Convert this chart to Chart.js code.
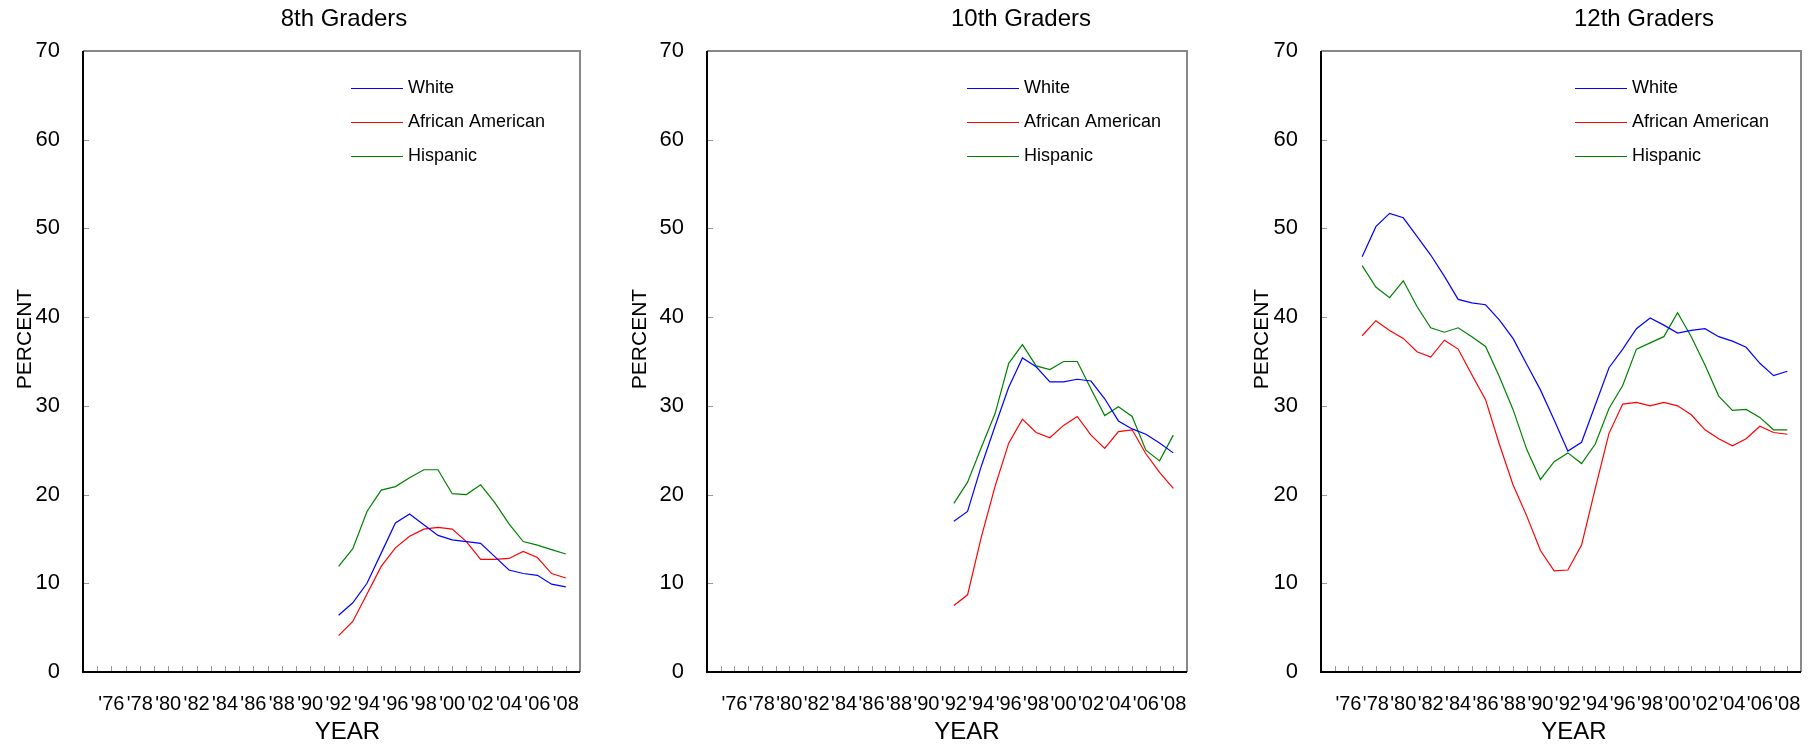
<!DOCTYPE html>
<html>
<head>
<meta charset="utf-8">
<script src="https://cdn.jsdelivr.net/npm/chart.js@4.4.1/dist/chart.umd.min.js"></script>
<style>
  html, body { margin: 0; padding: 0; background: #fff; }
  body { width: 1813px; height: 747px; position: relative; overflow: hidden; font-family: "Liberation Sans", Arial, sans-serif; }
  canvas { position: absolute; top: 0; }
  .title { position: absolute; top: 4px; font-size: 24px; line-height: 28px; transform: translateX(-50%); white-space: nowrap; color: #000; }
</style>
</head>
<body>
<canvas id="c8" width="600" height="747" style="left:0px"></canvas>
<canvas id="c10" width="600" height="747" style="left:624px"></canvas>
<canvas id="c12" width="575" height="747" style="left:1238px"></canvas>
<div class="title" style="left:344px">8th Graders</div>
<div class="title" style="left:1021px">10th Graders</div>
<div class="title" style="left:1644px">12th Graders</div>
<script>
// series names and axis titles
const seriesNames = ['White', 'African American', 'Hispanic']
const xTitle = 'YEAR'
const yTitle = 'PERCENT'

// x axis ticks: every year gets a tick mark, even years get a label
const tickYears = [1975, 1976, 1977, 1978, 1979, 1980, 1981, 1982, 1983, 1984, 1985, 1986,
  1987, 1988, 1989, 1990, 1991, 1992, 1993, 1994, 1995, 1996, 1997, 1998, 1999, 2000,
  2001, 2002, 2003, 2004, 2005, 2006, 2007, 2008]
const tickLabels = ['', "'76", '', "'78", '', "'80", '', "'82", '', "'84", '', "'86",
  '', "'88", '', "'90", '', "'92", '', "'94", '', "'96", '', "'98", '', "'00",
  '', "'02", '', "'04", '', "'06", '', "'08"]
const yTicks = [0, 10, 20, 30, 40, 50, 60, 70]

// 8th graders
const years8 = [1992, 1993, 1994, 1995, 1996, 1997, 1998, 1999, 2000, 2001, 2002, 2003, 2004, 2005, 2006, 2007, 2008]
const white8 = [6.4, 7.8, 10.0, 13.4, 16.8, 17.8, 16.6, 15.4, 14.9, 14.7, 14.5, 13.0, 11.5, 11.1, 10.9, 9.9, 9.6]
const black8 = [4.1, 5.7, 8.8, 11.9, 14.0, 15.3, 16.1, 16.3, 16.1, 14.7, 12.7, 12.7, 12.8, 13.6, 12.9, 11.1, 10.6]
const hisp8 = [11.9, 13.9, 18.1, 20.5, 20.9, 21.9, 22.8, 22.8, 20.1, 20.0, 21.1, 19.1, 16.7, 14.7, 14.3, 13.8, 13.3]

// 10th graders
const years10 = [1992, 1993, 1994, 1995, 1996, 1997, 1998, 1999, 2000, 2001, 2002, 2003, 2004, 2005, 2006, 2007, 2008]
const white10 = [17.0, 18.1, 23.2, 27.7, 32.1, 35.4, 34.4, 32.7, 32.7, 33.0, 32.8, 30.8, 28.3, 27.4, 26.8, 25.8, 24.7]
const black10 = [7.5, 8.7, 15.2, 20.9, 25.8, 28.5, 27.0, 26.4, 27.8, 28.8, 26.7, 25.2, 27.1, 27.3, 24.6, 22.5, 20.7]
const hisp10 = [19.0, 21.4, 25.3, 29.1, 34.8, 36.9, 34.5, 34.1, 35.0, 35.0, 31.9, 28.9, 29.9, 28.8, 25.0, 23.8, 26.7]

// 12th graders
const years12 = [1977, 1978, 1979, 1980, 1981, 1982, 1983, 1984, 1985, 1986, 1987, 1988, 1989, 1990, 1991, 1992,
  1993, 1994, 1995, 1996, 1997, 1998, 1999, 2000, 2001, 2002, 2003, 2004, 2005, 2006, 2007, 2008]
const white12 = [46.8, 50.2, 51.7, 51.2, 49.1, 47.0, 44.6, 42.0, 41.6, 41.4, 39.7, 37.6, 34.7, 31.8, 28.4, 24.9,
  25.9, 30.1, 34.3, 36.4, 38.7, 39.9, 39.1, 38.2, 38.5, 38.7, 37.8, 37.3, 36.6, 34.8, 33.4, 33.9]
const black12 = [37.9, 39.6, 38.5, 37.6, 36.1, 35.5, 37.4, 36.4, 33.5, 30.7, 25.7, 21.1, 17.6, 13.7, 11.4, 11.5,
  14.3, 20.7, 26.9, 30.2, 30.4, 30.0, 30.4, 30.0, 29.0, 27.3, 26.3, 25.5, 26.3, 27.7, 27.0, 26.8]
const hisp12 = [45.8, 43.4, 42.2, 44.1, 41.2, 38.8, 38.3, 38.8, 37.8, 36.7, 33.3, 29.6, 25.1, 21.7, 23.7, 24.7,
  23.5, 25.7, 29.7, 32.3, 36.4, 37.1, 37.8, 40.5, 37.8, 34.6, 31.1, 29.5, 29.6, 28.7, 27.3, 27.3]

const colors = ['#0000ff', '#ff0000', '#008000']
const FONT = '"Liberation Sans", Arial, sans-serif'

// inward tick marks, box frame, axis titles and the legend inside the plot
const frame = {
  id: 'frame',
  afterDraw(chart, args, opts) {
    const { ctx, chartArea: a, scales: { x, y } } = chart
    ctx.save()
    ctx.strokeStyle = '#999'
    ctx.lineWidth = 1
    x.ticks.forEach(t => {
      const px = Math.round(x.getPixelForValue(t.value)) + 0.5
      ctx.beginPath(); ctx.moveTo(px, a.bottom); ctx.lineTo(px, a.bottom - 6); ctx.stroke()
    })
    y.ticks.forEach(t => {
      const py = Math.round(y.getPixelForValue(t.value)) + 0.5
      ctx.beginPath(); ctx.moveTo(a.left, py); ctx.lineTo(a.left + 6, py); ctx.stroke()
    })
    ctx.lineWidth = 2
    ctx.strokeStyle = '#888'
    ctx.beginPath(); ctx.moveTo(a.left, a.top); ctx.lineTo(a.right, a.top); ctx.lineTo(a.right, a.bottom); ctx.stroke()
    ctx.strokeStyle = '#000'
    ctx.beginPath(); ctx.moveTo(a.left, a.top); ctx.lineTo(a.left, a.bottom); ctx.lineTo(a.right, a.bottom); ctx.stroke()

    // axis titles
    ctx.fillStyle = '#000'
    ctx.textAlign = 'center'
    ctx.textBaseline = 'middle'
    ctx.font = '24px ' + FONT
    ctx.fillText(xTitle, (a.left + a.right) / 2 + opts.yearDX, a.bottom + 60)
    ctx.save()
    ctx.font = '21px ' + FONT
    ctx.translate(a.left + opts.percentDX, a.top + 288)
    ctx.rotate(-Math.PI / 2)
    ctx.fillText(yTitle, 0, 0)
    ctx.restore()

    // legend
    ctx.font = '18px ' + FONT
    ctx.textAlign = 'left'
    chart.data.datasets.forEach((ds, i) => {
      const ly = a.top + 37 + i * 34
      const lx = a.left + opts.legendX
      ctx.strokeStyle = ds.borderColor
      ctx.lineWidth = 1
      ctx.beginPath(); ctx.moveTo(lx, ly + 0.5); ctx.lineTo(lx + 52, ly + 0.5); ctx.stroke()
      ctx.fillText(ds.label, lx + 57, ly)
    })
    ctx.restore()
  }
}

function makeChart(id, years, series, p) {
  const datasets = series.map((vals, i) => ({
    label: seriesNames[i],
    data: years.map((yr, j) => ({ x: yr, y: vals[j] })),
    borderColor: colors[i],
    borderWidth: 1.2,
    pointRadius: 0,
    tension: 0,
    fill: false
  }))
  return new Chart(document.getElementById(id), {
    type: 'line',
    data: { datasets },
    plugins: [frame],
    options: {
      responsive: false,
      devicePixelRatio: 1,
      animation: false,
      layout: { padding: { top: 51, right: p.padRight, bottom: 0, left: 0 } },
      plugins: {
        legend: { display: false },
        tooltip: { enabled: false },
        frame: { legendX: p.legendX, percentDX: p.percentDX, yearDX: p.yearDX }
      },
      scales: {
        x: {
          type: 'linear',
          min: 1974,
          max: 2009,
          afterBuildTicks: s => { s.ticks = tickYears.map(v => ({ value: v })) },
          afterFit: s => { s.height = 75 },
          grid: { display: false },
          border: { display: false },
          ticks: {
            autoSkip: false,
            maxRotation: 0,
            padding: 12,
            color: '#000',
            font: { family: FONT, size: 20 },
            callback: v => tickLabels[tickYears.indexOf(v)]
          }
        },
        y: {
          min: 0,
          max: 70,
          afterBuildTicks: s => { s.ticks = yTicks.map(v => ({ value: v })) },
          afterFit: s => { s.width = p.axisW },
          grid: { display: false },
          border: { display: false },
          ticks: { padding: 15, color: '#000', font: { family: FONT, size: 22 } }
        }
      }
    }
  })
}

makeChart('c8', years8, [white8, black8, hisp8], { axisW: 83, padRight: 20, legendX: 268, percentDX: -58, yearDX: 16 })
makeChart('c10', years10, [white10, black10, hisp10], { axisW: 83, padRight: 37, legendX: 260, percentDX: -67, yearDX: 20 })
makeChart('c12', years12, [white12, black12, hisp12], { axisW: 83, padRight: 12, legendX: 254, percentDX: -59, yearDX: 13 })
</script>
</body>
</html>
